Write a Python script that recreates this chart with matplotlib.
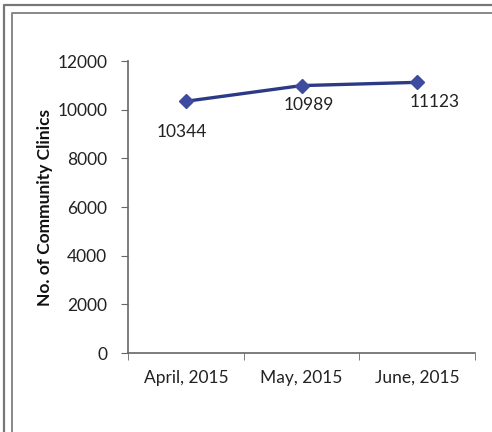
import matplotlib.pyplot as plt
from matplotlib.lines import Line2D

# Data
months = ["April, 2015", "May, 2015", "June, 2015"]
clinics = [10344, 10989, 11123]
y_ticks = [0, 2000, 4000, 6000, 8000, 10000, 12000]

W, H = 492, 432
plt.rcParams['font.family'] = ['Lato', 'DejaVu Sans']
FS = 12.5

fig = plt.figure(figsize=(W / 100, H / 100), dpi=100)
ax = fig.add_axes([128 / W, 1 - 353 / H, (475 - 128) / W, (353 - 61) / H])

x = list(range(len(months)))
ax.plot(x, clinics, color='#2c3a86', lw=2.4, marker='D', ms=7,
        mfc='#3d4c9e', mec='#3d4c9e', zorder=3)

# data labels
offsets = [(-4, -31), (7, -19), (18, -20)]
for xi, v, (dx, dy) in zip(x, clinics, offsets):
    ax.annotate(str(v), (xi, v), xytext=(dx, dy), textcoords='offset pixels',
                ha='center', va='center', fontsize=FS, color='#222222')

ax.set_xlim(-0.5, len(months) - 0.5)
ax.set_ylim(0, 12000)
ax.set_yticks(y_ticks)
ax.set_yticklabels([str(t) for t in y_ticks], fontsize=FS, color='#222222')
ax.set_xticks(x)
ax.set_xticklabels(months, fontsize=FS, color='#222222')
ax.tick_params(axis='x', length=0, pad=12)
ax.set_xticks([-0.5, 0.5, 1.5, 2.5], minor=True)
ax.tick_params(axis='x', which='minor', length=5, direction='out', color='#666666')
ax.tick_params(axis='y', length=5, direction='out', color='#666666', pad=10)

for s in ['top', 'right']:
    ax.spines[s].set_visible(False)
for s in ['left', 'bottom']:
    ax.spines[s].set_color('#666666')
    ax.spines[s].set_linewidth(1.2)

ax.set_ylabel("No. of Community Clinics", fontsize=FS, fontweight='bold',
              color='#111111', labelpad=3)

# outer frame (double line on top and left)
def px_line(xs, ys, **kw):
    fig.add_artist(Line2D([v / W for v in xs], [1 - v / H for v in ys],
                          transform=fig.transFigure, **kw))

px_line([4, 4, W], [H, 5, 5], color='#777777', lw=1.6)
px_line([12, 12, W], [H, 13, 13], color='#888888', lw=1.4)

fig.savefig("out.png", dpi=100)
